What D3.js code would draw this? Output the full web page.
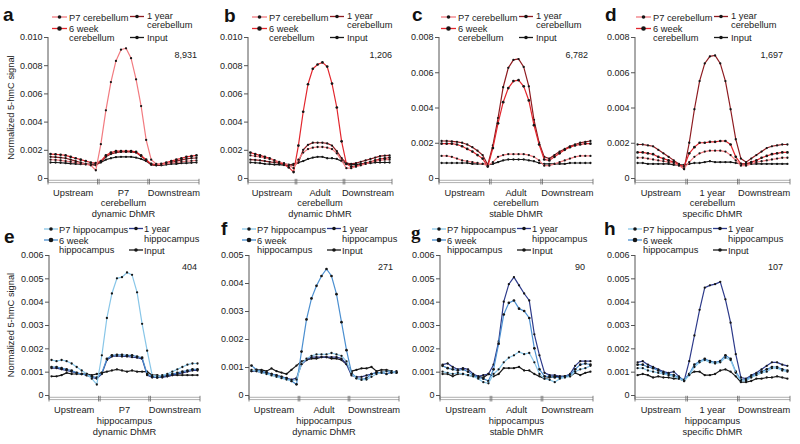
<!DOCTYPE html>
<meta charset="utf-8">
<style>
body { margin: 0; background: #fff; }
svg { font-family: "Liberation Sans", Arial, Helvetica, sans-serif; }
</style>
<svg width="800" height="444"></svg>
<script src="https://d3js.org/d3.v7.min.js"></script>
<script>

// all signal values are in units of 0.001 (normalized 5-hmC signal x 1000)
// 30 bins: 10 upstream, 10 DhMR body, 10 downstream

// a  P7 cerebellum dynamic DhMR
var a_p7 = [1.30,1.28,1.25,1.20,1.15,1.08,1.02,0.98,0.90,0.55, 2.40,4.80,6.80,8.30,9.10,9.20,8.50,7.00,5.10,2.70, 1.30,1.00,0.95,1.00,1.05,1.10,1.15,1.20,1.22,1.25];
var a_6w = [1.70,1.68,1.65,1.60,1.50,1.40,1.30,1.20,1.10,1.05, 1.20,1.60,1.80,1.90,1.90,1.90,1.90,1.85,1.60,1.30, 1.00,0.95,1.00,1.10,1.20,1.30,1.40,1.50,1.55,1.60];
var a_1y = [1.50,1.48,1.45,1.40,1.30,1.20,1.10,1.00,0.95,0.90, 1.15,1.50,1.70,1.80,1.85,1.85,1.85,1.80,1.55,1.25, 0.95,0.90,0.95,1.00,1.10,1.20,1.28,1.35,1.40,1.42];
var a_in = [1.10,1.10,1.08,1.05,1.02,1.00,0.98,0.96,0.96,1.00, 1.10,1.30,1.40,1.48,1.50,1.50,1.50,1.45,1.35,1.20, 0.95,0.90,0.90,0.95,1.00,1.00,1.05,1.05,1.08,1.10];

// b  Adult cerebellum dynamic DhMR
var b_p7 = [1.60,1.55,1.50,1.42,1.35,1.25,1.15,1.05,0.90,0.70, 1.30,1.80,2.05,2.15,2.20,2.20,2.15,2.05,1.75,1.25, 0.70,0.70,0.80,0.90,1.00,1.10,1.20,1.25,1.30,1.30];
var b_6w = [1.80,1.70,1.60,1.50,1.40,1.25,1.10,0.95,0.75,0.42, 2.30,4.70,6.65,7.75,8.05,8.20,7.90,6.70,5.00,2.60, 1.00,0.80,0.85,0.95,1.05,1.15,1.25,1.35,1.40,1.45];
var b_1y = [1.30,1.28,1.25,1.20,1.15,1.10,1.05,1.00,0.95,0.90, 1.10,2.00,2.35,2.50,2.50,2.50,2.45,2.30,1.90,1.40, 1.05,1.00,1.05,1.15,1.25,1.35,1.45,1.55,1.58,1.60];
var b_in = [1.10,1.08,1.05,1.00,0.98,0.95,0.95,0.92,0.90,1.00, 1.10,1.20,1.35,1.45,1.50,1.50,1.40,1.40,1.35,1.20, 1.00,0.95,0.95,1.00,1.05,1.05,1.10,1.10,1.10,1.10];

// c  Adult cerebellum stable DhMR
var c_p7 = [1.25,1.25,1.20,1.10,1.00,0.95,0.90,0.85,0.80,0.70, 0.90,1.20,1.30,1.35,1.35,1.35,1.35,1.30,1.20,1.00, 0.70,0.70,0.80,0.90,1.00,1.10,1.20,1.25,1.25,1.25];
var c_6w = [1.95,1.95,1.95,1.90,1.80,1.65,1.50,1.30,1.10,0.65, 1.70,3.10,4.30,5.10,5.50,5.55,5.20,4.40,3.00,1.90, 1.05,1.00,1.20,1.40,1.60,1.75,1.85,1.90,1.95,1.95];
var c_1y = [2.10,2.10,2.08,2.05,2.00,1.90,1.75,1.55,1.30,0.75, 1.85,3.40,5.15,6.25,6.70,6.75,6.30,5.20,3.30,2.00, 1.20,1.10,1.30,1.50,1.65,1.80,1.90,2.00,2.05,2.10];
var c_in = [0.85,0.85,0.85,0.85,0.85,0.85,0.80,0.80,0.80,0.75, 0.80,0.90,1.00,1.05,1.05,1.05,1.05,1.00,0.95,0.85, 0.80,0.80,0.80,0.80,0.80,0.85,0.85,0.85,0.85,0.85];

// d  1 year cerebellum specific DhMR
var d_p7 = [1.15,1.15,1.10,1.05,1.00,0.95,0.90,0.85,0.70,0.55, 0.90,1.20,1.40,1.50,1.55,1.55,1.55,1.50,1.30,1.00, 0.70,0.70,0.80,0.90,0.95,1.00,1.05,1.10,1.15,1.15];
var d_6w = [1.45,1.45,1.40,1.35,1.20,1.10,1.00,0.90,0.75,0.65, 1.40,1.75,2.00,2.00,2.05,2.05,2.10,2.10,1.90,1.20, 0.80,0.80,0.90,1.00,1.15,1.25,1.35,1.40,1.45,1.45];
var d_1y = [1.90,1.90,1.85,1.80,1.60,1.40,1.20,1.00,0.80,0.50, 2.00,3.90,5.50,6.50,6.90,6.95,6.50,5.50,3.90,2.20, 1.10,0.90,1.10,1.30,1.50,1.70,1.80,1.85,1.90,1.90];
var d_in = [0.85,0.85,0.80,0.80,0.80,0.80,0.80,0.75,0.75,0.75, 0.80,0.85,0.85,0.90,0.95,0.90,0.90,0.90,0.90,0.85, 0.80,0.80,0.80,0.80,0.80,0.80,0.80,0.80,0.80,0.80];

// e  P7 hippocampus dynamic DhMR
var e_p7 = [1.50,1.45,1.50,1.45,1.35,1.20,1.05,0.90,0.70,0.45, 1.70,3.30,4.35,5.00,5.05,5.25,5.15,4.40,3.05,1.90, 0.85,0.80,0.85,0.90,1.00,1.10,1.20,1.30,1.35,1.35];
var e_6w = [1.20,1.20,1.15,1.10,1.05,0.95,0.90,0.85,0.80,0.75, 0.95,1.55,1.70,1.72,1.72,1.70,1.70,1.65,1.60,0.90, 0.80,0.75,0.80,0.85,0.90,0.95,1.00,1.05,1.10,1.10];
var e_1y = [1.15,1.15,1.10,1.05,1.00,0.95,0.90,0.85,0.75,0.70, 0.90,1.50,1.65,1.68,1.65,1.65,1.62,1.60,1.55,0.85, 0.75,0.75,0.75,0.80,0.85,0.90,0.95,1.00,1.05,1.05];
var e_in = [0.80,0.80,0.85,0.95,0.90,0.90,0.90,0.90,0.85,0.90, 0.95,1.00,1.05,1.10,1.05,1.00,1.05,1.00,1.00,1.00, 0.85,0.85,0.80,0.80,0.85,0.85,0.85,0.85,0.85,0.85];

// f  Adult hippocampus dynamic DhMR
var f_p7 = [0.90,0.85,0.80,0.75,0.70,0.65,0.60,0.55,0.50,0.55, 1.10,1.30,1.40,1.45,1.45,1.45,1.50,1.45,1.40,1.20, 0.75,0.60,0.55,0.55,0.65,0.75,0.80,0.85,0.85,0.80];
var f_6w = [1.05,0.90,0.85,0.80,0.75,0.70,0.65,0.60,0.50,0.38, 1.55,2.70,3.45,3.90,4.25,4.50,4.25,3.60,2.60,1.60, 0.80,0.60,0.55,0.60,0.75,0.80,0.80,0.75,0.80,0.80];
var f_1y = [0.85,0.85,0.80,0.80,0.75,0.70,0.65,0.60,0.55,0.60, 1.10,1.25,1.35,1.35,1.35,1.35,1.35,1.35,1.30,1.10, 0.70,0.65,0.65,0.70,0.75,0.80,0.80,0.85,0.80,0.85];
var f_in = [0.85,0.90,0.90,0.85,0.95,0.85,0.80,0.75,0.90,1.05, 1.20,1.25,1.30,1.30,1.35,1.35,1.30,1.30,1.25,1.10, 0.85,0.90,0.95,0.95,1.00,0.85,0.90,0.90,0.85,0.80];

// g  Adult hippocampus stable DhMR
var g_p7 = [1.00,0.95,0.90,0.95,0.90,0.85,0.80,0.70,0.55,0.50, 0.90,1.10,1.40,1.60,1.70,1.85,1.75,1.80,1.40,0.90, 0.70,0.65,0.55,0.70,0.75,0.80,1.00,1.10,1.15,1.25];
var g_6w = [1.25,1.15,1.10,1.05,1.10,1.00,0.85,0.75,0.70,0.60, 1.10,2.20,3.45,3.95,4.05,3.70,3.60,3.30,2.00,1.10, 0.80,0.80,0.75,0.75,0.80,0.85,1.10,1.30,1.35,1.30];
var g_1y = [1.30,1.35,1.20,1.10,1.15,1.10,0.90,0.80,0.85,0.90, 1.30,2.30,4.00,4.75,5.05,4.70,4.35,4.05,2.60,1.70, 0.95,0.85,0.85,0.80,0.80,0.90,1.25,1.45,1.45,1.45];
var g_in = [0.90,0.90,0.80,0.90,0.90,0.85,0.80,0.80,0.75,0.90, 0.80,0.90,1.15,1.15,1.15,1.20,1.05,1.05,0.90,0.80, 0.70,0.75,0.80,0.80,0.80,0.80,0.95,0.85,0.95,1.00];

// h  1 year hippocampus specific DhMR
var h_p7 = [1.15,1.15,1.05,1.00,0.95,0.90,0.85,0.80,0.70,0.60, 0.85,1.20,1.40,1.50,1.40,1.35,1.40,1.60,1.50,0.95, 0.60,0.60,0.75,0.85,0.95,1.00,1.15,1.15,1.05,1.00];
var h_6w = [1.30,1.30,1.20,1.15,1.05,0.95,0.90,0.85,0.75,0.65, 0.90,1.30,1.45,1.55,1.45,1.40,1.45,1.70,1.55,1.00, 0.65,0.65,0.80,0.90,1.00,1.10,1.20,1.20,1.10,1.05];
var h_1y = [1.40,1.45,1.30,1.20,1.10,1.00,0.95,1.00,0.80,0.60, 1.45,2.55,3.65,4.60,4.70,4.75,4.85,4.10,3.10,1.75, 0.75,0.70,0.85,0.95,1.10,1.25,1.40,1.40,1.30,1.25];
var h_in = [0.85,0.90,0.85,0.75,0.80,0.75,0.75,0.70,0.70,0.60, 0.90,1.00,1.00,0.85,0.85,0.90,1.05,1.10,1.00,0.80, 0.55,0.55,0.60,0.70,0.70,0.75,0.75,0.80,0.75,0.70];

var ticks10 = [0, 2, 4, 6, 8, 10], tickLabels10 = ["0", "0.002", "0.004", "0.006", "0.008", "0.010"];
var ticks8 = [0, 2, 4, 6, 8],      tickLabels8 = ["0", "0.002", "0.004", "0.006", "0.008"];
var ticks6 = [0, 1, 2, 3, 4, 5, 6], tickLabels6 = ["0", "0.001", "0.002", "0.003", "0.004", "0.005", "0.006"];
var ticks5 = [0, 1, 2, 3, 4, 5],   tickLabels5 = ["0", "0.001", "0.002", "0.003", "0.004", "0.005"];

var cbLegend = [["P7 cerebellum"], ["6 week", "cerebellum"], ["1 year", "cerebellum"], ["Input"]];
var hcLegend = [["P7 hippocampus"], ["6 week", "hippocampus"], ["1 year", "hippocampus"], ["Input"]];
var cbColors = ["#f27b80", "#e2262d", "#8e1b20", "#1a1a1a"];
var hcColors = ["#88c6e8", "#4b8fd0", "#2d3a8a", "#1a1a1a"];
var regionNames = ["Upstream", "Downstream"];
var yTitle = "Normalized 5-hmC signal";

var svg = d3.select("svg"),
    nBins = 30,
    bins = d3.range(nBins),
    font = "\"Liberation Sans\", Arial, Helvetica, sans-serif";

var rows = [
  {top: 37, zero: 178, countY: 58, labelY: [195.5, 206, 216.5], titleY: 107.5},
  {top: 255, zero: 395, countY: 269.5, labelY: [412.5, 423.5, 435], titleY: 325}
];

// legend layout per row: [sampleStart, sampleEnd, textX] offsets from the y axis, and y positions
var legendTop = {
  cols: [[4, 19, 21], [82, 96, 99]],
  items: [{col: 0, sy: 17, ty: [20.5]}, {col: 0, sy: 28.5, ty: [31.5, 40.5]},
          {col: 1, sy: 16.5, ty: [18.5, 28]}, {col: 1, sy: 37.5, ty: [40.5]}]
};
var legendBottom = {
  cols: [[-6, 8, 9], [79, 93, 94]],
  items: [{col: 0, sy: 229, ty: [232.5]}, {col: 0, sy: 240, ty: [243.5, 253]},
          {col: 1, sy: 228.5, ty: [231.5, 242]}, {col: 1, sy: 250, ty: [253.5]}]
};

var panels = [
  {letter: "a", lx: 3, ly: 21, row: 0, x0: 48, x1: 199, ymax: 10, ticks: ticks10, labels: tickLabels10,
   series: [a_p7, a_6w, a_1y, a_in], colors: cbColors, legend: cbLegend, lay: legendTop, ldx: 0,
   mid: ["P7", "cerebellum", "dynamic DhMR"], count: "8,931", cx: 197},
  {letter: "b", lx: 224, ly: 21.5, row: 0, x0: 248, x1: 392, ymax: 10, ticks: ticks10, labels: tickLabels10,
   series: [b_p7, b_6w, b_1y, b_in], colors: cbColors, legend: cbLegend, lay: legendTop, ldx: 0,
   mid: ["Adult", "cerebellum", "dynamic DhMR"], count: "1,206", cx: 392},
  {letter: "c", lx: 412, ly: 21, row: 0, x0: 439, x1: 593, ymax: 8, ticks: ticks8, labels: tickLabels8,
   series: [c_p7, c_6w, c_1y, c_in], colors: cbColors, legend: cbLegend, lay: legendTop, ldx: -2,
   mid: ["Adult", "cerebellum", "stable DhMR"], count: "6,782", cx: 588},
  {letter: "d", lx: 605, ly: 21, row: 0, x0: 635, x1: 790, ymax: 8, ticks: ticks8, labels: tickLabels8,
   series: [d_p7, d_6w, d_1y, d_in], colors: cbColors, legend: cbLegend, lay: legendTop, ldx: -3,
   mid: ["1 year", "cerebellum", "specific DhMR"], count: "1,697", cx: 783},
  {letter: "e", lx: 4, ly: 243, row: 1, x0: 49, x1: 200, ymax: 6, ticks: ticks6, labels: tickLabels6,
   series: [e_p7, e_6w, e_1y, e_in], colors: hcColors, legend: hcLegend, lay: legendBottom, ldx: 1,
   mid: ["P7", "hippocampus", "dynamic DhMR"], count: "404", cx: 197},
  {letter: "f", lx: 221, ly: 235, row: 1, x0: 249, x1: 399, ymax: 5, ticks: ticks5, labels: tickLabels5,
   series: [f_p7, f_6w, f_1y, f_in], colors: hcColors, legend: hcLegend, lay: legendBottom, ldx: -1,
   mid: ["Adult", "hippocampus", "dynamic DhMR"], count: "271", cx: 393},
  {letter: "g", lx: 411, ly: 239, row: 1, x0: 440, x1: 593, ymax: 6, ticks: ticks6, labels: tickLabels6,
   series: [g_p7, g_6w, g_1y, g_in], colors: hcColors, legend: hcLegend, lay: legendBottom, ldx: -2, serif: true,
   mid: ["Adult", "hippocampus", "stable DhMR"], count: "90", cx: 585},
  {letter: "h", lx: 604, ly: 235, row: 1, x0: 635, x1: 790, ymax: 6, ticks: ticks6, labels: tickLabels6,
   series: [h_p7, h_6w, h_1y, h_in], colors: hcColors, legend: hcLegend, lay: legendBottom, ldx: -1,
   mid: ["1 year", "hippocampus", "specific DhMR"], count: "107", cx: 783}
];

var drawPanel = function(p) {
  var r = rows[p.row];
  var g = svg.append("g");

  var y = d3.scaleLinear().domain([0, p.ymax]).range([r.zero, r.top]);
  var x = d3.scaleBand().domain(bins).range([p.x0, p.x1]);
  var bw = x.bandwidth();
  var cx = function(i) { return x(i) + bw / 2; };

  // y axis
  g.append("g")
      .attr("transform", "translate(" + p.x0 + ",0)")
      .call(d3.axisLeft(y).tickValues(p.ticks).tickSize(4).tickSizeOuter(0)
        .tickFormat(function(d) { return p.labels[p.ticks.indexOf(d)]; }))
      .call(function(a) {
        a.select(".domain").remove();
        a.selectAll("line").attr("stroke", "#555");
        a.selectAll("text").attr("font-size", 9).attr("font-family", font).attr("fill", "#222").attr("x", -5.5);
      });
  g.append("line")
      .attr("x1", p.x0).attr("x2", p.x0)
      .attr("y1", r.top).attr("y2", r.zero + 4.5)
      .attr("stroke", "#555");

  // x axis: double rule broken into three regions
  [2.3, 4.6].forEach(function(dy) {
    g.append("line")
        .attr("x1", p.x0).attr("x2", p.x1)
        .attr("y1", r.zero + dy).attr("y2", r.zero + dy)
        .attr("stroke", "#9a9a9a").attr("stroke-width", 0.8);
  });
  var edges = [p.x0, x(10) - 0.8, x(10) + 0.8, x(20) - 0.8, x(20) + 0.8, p.x1];
  g.selectAll(".brk").data(edges).enter().append("line")
      .attr("x1", function(d) { return d; }).attr("x2", function(d) { return d; })
      .attr("y1", r.zero + 0.8).attr("y2", r.zero + 6.5)
      .attr("stroke", "#666").attr("stroke-width", 0.8);

  // region labels
  var segCenter = function(s) { return (x(s * 10) + x(s * 10 + 9) + bw) / 2; };
  var lab = g.append("g").attr("font-size", 9.3).attr("fill", "#222").attr("text-anchor", "middle");
  lab.append("text").attr("x", segCenter(0)).attr("y", r.labelY[0]).text(regionNames[0]);
  lab.append("text").attr("x", segCenter(2)).attr("y", r.labelY[0]).text(regionNames[1]);
  p.mid.forEach(function(t, k) {
    lab.append("text").attr("x", segCenter(1)).attr("y", r.labelY[k]).text(t);
  });

  // series: draw input first so the DhMR peak sits on top
  var line = d3.line().x(function(i) { return cx(i); });
  [3, 2, 1, 0].forEach(function(s) {
    var vals = p.series[s];
    line.y(function(i) { return y(vals[i]); });
    g.append("path")
        .attr("d", line(bins))
        .attr("fill", "none")
        .attr("stroke", p.colors[s])
        .attr("stroke-width", 1.2);
    g.selectAll(".pt" + s).data(bins).enter().append("circle")
        .attr("cx", cx)
        .attr("cy", function(i) { return y(vals[i]); })
        .attr("r", s == 1 ? 1.35 : 1.15)
        .attr("fill", "#151515");
  });

  // legend
  var lg = g.append("g").attr("font-size", 9.3).attr("fill", "#222");
  p.lay.items.forEach(function(it, s) {
    var c = p.lay.cols[it.col];
    var xs = p.x0 + c[0] + p.ldx, xe = p.x0 + c[1] + p.ldx;
    lg.append("line")
        .attr("x1", xs).attr("x2", xe).attr("y1", it.sy).attr("y2", it.sy)
        .attr("stroke", p.colors[s]).attr("stroke-width", 1.3);
    lg.append("circle")
        .attr("cx", (xs + xe) / 2).attr("cy", it.sy)
        .attr("r", s == 1 ? 2.3 : 1.8).attr("fill", "#151515");
    p.legend[s].forEach(function(t, k) {
      lg.append("text").attr("x", p.x0 + c[2] + p.ldx).attr("y", it.ty[k]).text(t);
    });
  });

  // DhMR count
  g.append("text")
      .attr("x", p.cx).attr("y", r.countY)
      .attr("text-anchor", "end").attr("font-size", 9).attr("fill", "#222")
      .text(p.count);

  // panel letter
  g.append("text")
      .attr("x", p.lx).attr("y", p.ly)
      .attr("font-size", 19).attr("font-weight", "bold").attr("fill", "#111")
      .attr("font-family", p.serif ? "\"Liberation Serif\", \"Times New Roman\", serif" : font)
      .text(p.letter);
};

panels.forEach(drawPanel);

// y titles on the left column
rows.forEach(function(r) {
  svg.append("text")
      .attr("transform", "translate(13.5," + r.titleY + ") rotate(-90)")
      .attr("text-anchor", "middle")
      .attr("font-size", 9.3).attr("fill", "#222")
      .text(yTitle);
});

</script>
